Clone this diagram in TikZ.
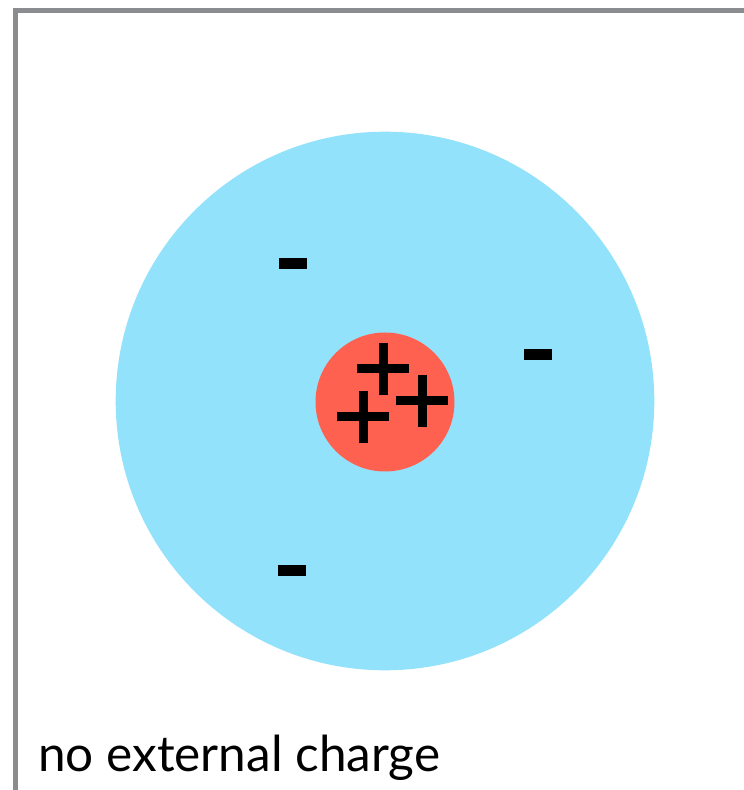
\documentclass[tikz,border=0pt]{standalone}
\usepackage{fontspec}
\setmainfont{Lato}
\definecolor{framegray}{HTML}{8A8C8F}
\definecolor{cloudblue}{HTML}{93E2FC}
\definecolor{nucleusred}{HTML}{FF6150}
\tikzset{
  framestyle/.style={draw=framegray, line width=5pt},
  cloud/.style={circle, fill=cloudblue, inner sep=0pt, minimum size=538.6pt},
  nucleus/.style={circle, fill=nucleusred, inner sep=0pt, minimum size=139pt},
  minuscharge/.style={rectangle, fill=black, inner sep=0pt, minimum width=28pt, minimum height=11pt},
  plusbar/.style={rectangle, fill=black, inner sep=0pt},
  pluscharge/.pic={
    \node[plusbar, minimum width=52.5pt, minimum height=9pt] (-h) at (0,0) {};
    \node[plusbar, minimum width=9pt, minimum height=52.5pt] (-v) at (0,0) {};
  },
  label/.style={anchor=base west, inner sep=0pt, font=\fontsize{50}{60}\selectfont}
}
\begin{document}
\begin{tikzpicture}[x=1pt, y=1pt]
\useasboundingbox (0,0) rectangle (744,790);
\fill[white] (0,0) rectangle (744,790);
\coordinate (fbl) at (15.5,0);
\coordinate (ftl) at (15.5,779.5);
\coordinate (ftr) at (744,779.5);
\draw[framestyle] (fbl) -- (ftl) -- (ftr);
\node[cloud] (atom) at (385,389) {};
\node[nucleus] (core) at (385,388) {};
\node[minuscharge] (e1) at (293,526.5) {};
\node[minuscharge] (e2) at (538,435.5) {};
\node[minuscharge] (e3) at (292,219.5) {};
\pic (p1) at (383,421) {pluscharge};
\pic (p2) at (422,389) {pluscharge};
\pic (p3) at (363,373) {pluscharge};
\node[label] (caption) at (38,18) {\resizebox{402pt}{!}{no external charge}};
\end{tikzpicture}
\end{document}
